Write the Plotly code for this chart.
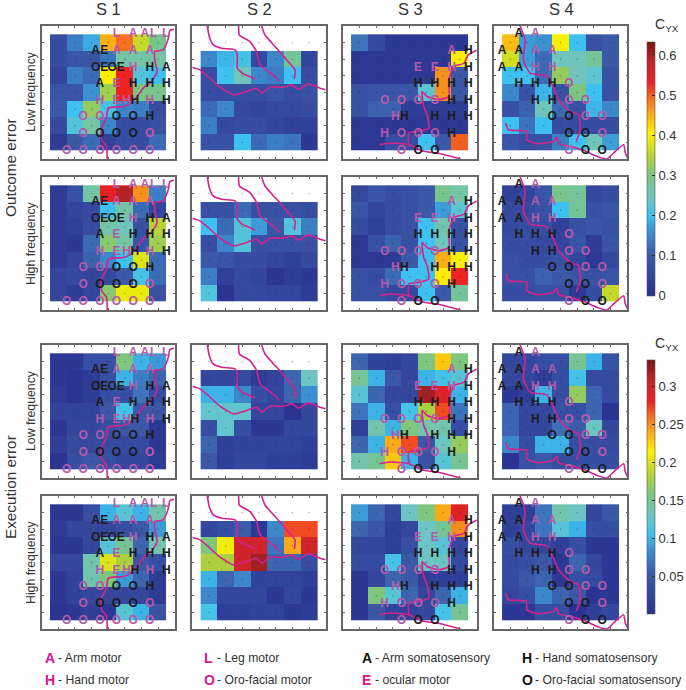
import plotly.graph_objects as go

W, H = 686, 690
FONT = "Liberation Sans"
PINK = "#b55aa8"
INK = "#1c1c1c"
LINE = "#d4238f"
GREY = "#333333"

subjects = ["S 1", "S 2", "S 3", "S 4"]
N = None
no_row = [N] * 7

# Outcome error, low frequency
o_low_s1 = [[.07,.14,.18,.45,.49,.36,.29],[.07,.09,.09,.13,.27,.27,.27],[.05,.14,.12,.40,.53,.22,.20],[.09,.09,.16,.33,.53,.30,.29],[.10,.20,.32,.21,.15,.14,.07],[.06,.22,.27,.15,.07,.07,.08],[.03,.10,.12,.04,.07,.07,.12]]
o_low_s2 = [no_row,[.15,.19,.21,.06,.15,.28,.05],[.07,.20,.25,.15,.14,.20,.07],[.07,.07,.07,.07,.09,.07,.08],[.12,.15,.06,.05,.06,.06,.07],[.14,.06,.07,.07,.05,.04,.04],[.08,.08,.20,.12,.14,.13,.02]]
o_low_s3 = [[.13,.06,.02,.02,.02,.02,.02],[.02,.02,.02,.02,.02,.02,.40],[.02,.02,.02,.02,.02,.47,.10],[.08,.09,.09,.09,.23,.47,.10],[.08,.11,.11,.03,.03,.03,.03],[.02,.02,.02,.02,.02,.02,.02],[.02,.02,.07,.07,.20,.10,.50]]
o_low_s4 = [[.44,.17,.16,.40,.20,.08,.10],[.37,.17,.12,.25,.25,.28,.10],[.20,.20,.12,.32,.25,.23,.08],[.15,.08,.19,.08,.30,.20,.08],[.08,.11,.25,.12,.08,.19,.15],[.20,.13,.20,.07,.07,.07,.07],[.09,.07,.08,.14,.20,.25,.17]]
# Outcome error, high frequency
o_high_s1 = [[.03,.08,.27,.54,.59,.47,.14],[.03,.05,.06,.20,.27,.12,.05],[.03,.04,.07,.27,.25,.08,.35],[.03,.02,.12,.31,.27,.09,.33],[.03,.05,.11,.15,.20,.38,.12],[.05,.06,.05,.06,.10,.21,.12],[.05,.03,.05,.31,.39,.39,.08]]
o_high_s2 = [no_row,[.08,.08,.12,.08,.08,.08,.07],[.20,.12,.22,.17,.09,.22,.14],[.07,.15,.22,.08,.08,.08,.08],[.10,.09,.07,.07,.05,.04,.06],[.14,.04,.06,.05,.01,.03,.02],[.22,.01,.06,.06,.05,.05,.03]]
o_high_s3 = [[.06,.09,.07,.08,.10,.29,.27],[.09,.05,.07,.08,.10,.17,.23],[.07,.04,.07,.08,.20,.26,.08],[.02,.08,.11,.08,.20,.25,.08],[.02,.02,.02,.10,.20,.45,.40],[.08,.07,.12,.20,.20,.41,.53],[.08,.08,.06,.06,.20,.10,.28]]
o_high_s4 = [[.04,.05,.09,.29,.28,.06,.07],[.06,.06,.08,.20,.28,.08,.09],[.06,.07,.07,.04,.08,.09,.08],[.07,.07,.06,.05,.09,.03,.09],[.08,.07,.07,.08,.05,.02,.06],[.08,.08,.11,.10,.09,.08,.09],[.07,.07,.08,.08,.02,.07,.36]]
# Execution error, low frequency
e_low_s1 = [[.01,.01,.04,.04,.16,.10,.09],[.01,.005,.015,.04,.10,.075,.06],[.015,.005,.015,.04,.04,.07,.04],[.025,.025,.025,.05,.11,.05,.05],[.01,.03,.03,.04,.05,.05,.01],[.02,.035,.035,.035,.035,.035,.01],[.005,.04,.05,.04,.03,.03,.015]]
e_low_s2 = [no_row,[.03,.03,.035,.015,.025,.06,.13],[.10,.10,.08,.04,.03,.06,.085],[.125,.125,.125,.03,.03,.005,.03],[.04,.125,.04,.01,.01,.03,.03],[.06,.02,.025,.025,.025,.025,.02],[.05,.02,.03,.03,.02,.02,.015]]
e_low_s3 = [[.06,.025,.02,.03,.16,.23,.16],[.15,.10,.05,.03,.10,.11,.12],[.12,.06,.03,.03,.32,.29,.10],[.07,.10,.04,.11,.18,.27,.07],[.02,.14,.10,.16,.14,.14,.04],[.06,.10,.24,.27,.05,.13,.17],[.14,.15,.23,.10,.045,.12,.15]]
e_low_s4 = [[.03,.03,.04,.04,.15,.10,.045],[.03,.03,.015,.04,.11,.035,.035],[.01,.02,.10,.04,.17,.06,.035],[.06,.03,.03,.04,.04,.06,.005],[.06,.03,.03,.065,.055,.13,.03],[.08,.04,.10,.10,.04,.04,.035],[.005,.045,.05,.04,.04,.04,.04]]
# Execution error, high frequency
e_high_s1 = [[.01,.01,.04,.10,.12,.10,.14],[.015,.03,.03,.03,.04,.05,.09],[.01,.01,.03,.12,.15,.06,.14],[.03,.03,.14,.20,.18,.05,.04],[.01,.025,.14,.16,.09,.06,.015],[.01,.025,.03,.03,.03,.03,.015],[.005,.01,.02,.01,.12,.10,.045]]
e_high_s2 = [no_row,[.03,.04,.055,.01,.08,.27,.27],[.16,.21,.30,.30,.07,.24,.30],[.18,.18,.30,.32,.06,.06,.04],[.10,.06,.08,.025,.025,.025,.02],[.08,.03,.03,.03,.01,.03,.01],[.11,.02,.02,.025,.025,.01,.015]]
e_high_s3 = [[.09,.06,.03,.13,.16,.24,.29],[.06,.05,.02,.03,.13,.15,.25],[.03,.03,.02,.04,.13,.12,.03],[.035,.035,.11,.05,.13,.13,.035],[.01,.03,.06,.05,.02,.02,.02],[.01,.16,.12,.06,.03,.06,.10],[.01,.05,.025,.025,.03,.11,.15]]
e_high_s4 = [[.02,.02,.07,.14,.13,.03,.05],[.02,.03,.07,.12,.10,.04,.04],[.04,.03,.03,.02,.04,.01,.01],[.035,.04,.05,.01,.06,.03,.01],[.035,.05,.06,.01,.04,.035,.01],[.03,.04,.08,.06,.05,.005,.01],[.01,.01,.04,.04,.005,.02,.03]]

panels = [
    [o_low_s1, o_low_s2, o_low_s3, o_low_s4],
    [o_high_s1, o_high_s2, o_high_s3, o_high_s4],
    [e_low_s1, e_low_s2, e_low_s3, e_low_s4],
    [e_high_s1, e_high_s2, e_high_s3, e_high_s4],
]

# Electrode labels: (letter, x, y) in grid units
s1_motor = [("L",4.5,.5),("A",5.5,.5),("A",6.2,.5),("L",6.74,.5),("L",7.46,.5),("A",4.5,1.5),("A",5.5,1.5),("A",6.5,1.5),("H",5.5,2.5),("E",4.5,3.5),("H",3.5,4.5),("E",4.5,4.5),("H",5.1,4.5),("H",6.5,4.5),("O",2.5,5.5),("O",3.5,5.5),("O",2.5,6.5),("O",6.5,6.5),("O",1.5,7.5),("O",2.5,7.5),("O",3.5,7.5),("O",4.5,7.5),("O",5.5,7.5),("O",6.5,7.5)]
s1_sensory = [("A",3.24,1.5),("E",3.76,1.5),("O",3.24,2.5),("E",3.76,2.5),("O",4.24,2.5),("E",4.76,2.5),("H",6.5,2.5),("A",7.5,2.5),("A",3.5,3.5),("H",5.5,3.5),("H",6.5,3.5),("H",7.5,3.5),("H",5.6,4.5),("H",7.5,4.5),("O",4.5,5.5),("O",5.5,5.5),("H",6.5,5.5),("O",3.5,6.5),("O",4.5,6.5),("O",5.5,6.5)]
s3_motor = [("A",6.5,1.5),("E",4.5,2.5),("E",5.5,2.5),("H",6.5,2.5),("O",2.5,4.5),("O",3.5,4.5),("O",4.5,4.5),("O",5.5,4.5),("H",3.14,5.5),("H",2.5,6.5),("O",3.5,6.5),("O",4.5,6.5),("O",5.5,6.5),("O",3.5,7.5)]
s3_sensory = [("H",7.5,1.5),("H",7.5,2.5),("H",4.5,3.5),("H",5.5,3.5),("H",6.5,3.5),("H",7.5,3.5),("H",6.5,4.5),("H",7.5,4.5),("H",3.68,5.5),("H",5.5,5.5),("H",6.5,5.5),("H",7.5,5.5),("H",6.5,6.5),("O",4.5,7.5),("O",5.5,7.5)]
s4_motor = [("A",2.5,.5),("A",2.5,1.5),("A",3.5,1.5),("H",2.5,2.5),("H",3.5,2.5),("O",4.5,3.5),("O",4.5,4.5),("O",5.5,4.5),("O",5.5,5.5),("O",6.5,5.5),("O",6.5,6.5),("O",4.5,7.5)]
s4_sensory = [("A",1.5,.5),("A",.5,1.5),("A",1.5,1.5),("A",.5,2.5),("A",1.5,2.5),("H",1.5,3.5),("H",2.5,3.5),("H",3.5,3.5),("H",2.5,4.5),("H",3.5,4.5),("O",3.5,5.5),("O",4.5,5.5),("O",4.5,6.5),("O",5.5,6.5),("O",5.5,7.5),("O",6.5,7.5)]
motor_labels = [s1_motor, [], s3_motor, s4_motor]
sensory_labels = [s1_sensory, [], s3_sensory, s4_sensory]

# Sulcus outlines in grid units
s1_lines = [[(7.96,.2),(7.7,.28),(7.64,.64),(7.5,1.08),(7.3,1.44),(6.8,1.54),(6.8,2.04),(6.94,2.74),(6.6,3.34),(6.1,3.74),(5.74,4.24),(5.3,4.68),(4.9,4.84),(4,4.94),(3.9,5.54),(3.6,6.14),(3.6,6.84),(3.9,7.24),(3.94,8)]]
s2_lines = [
    [(.9,0),(1.02,.64),(1.26,1.14),(1.76,1.34),(2.56,1.44),(2.7,1.74),(2.7,2.54),(3.06,2.88),(3.46,3.04),(3.76,3.2)],
    [(2.78,0),(2.82,.54),(3.46,.94),(3.86,1.54),(4.06,2.34),(4.56,2.74),(4.96,3.04),(5.22,3.34)],
    [(4.16,0),(4.36,.54),(5.06,1.34),(5.66,2.04),(6.16,2.64),(6.12,3.2)],
    [(0,2.5),(.46,2.64),(1.06,3.14),(1.66,3.68),(2.46,4.14),(3.06,4.0),(3.86,3.74),(4.16,4.04),(4.66,3.68),(5.46,3.68),(5.96,3.54),(6.36,3.8),(6.96,3.48),(7.66,3.74),(8,3.84)],
]
s3_lines = [
    [(8.04,1.44),(7.5,1.74),(7.24,2.24),(6.64,2.44),(6.34,3.24),(6.34,4.24),(5.74,4.44),(5.04,4.24),(4.74,3.94),(4.84,4.84),(5.04,5.34),(5.14,6.14),(4.54,6.34),(3.94,6.44),(3.94,7.14)],
    [(2.2,7.14),(2.84,7.04),(3.94,7.14),(4.84,7.54),(5.84,7.68),(7.04,8)],
]
s4_lines = [
    [(1.58,0),(1.88,.84),(1.78,2.04),(2.18,2.84),(3.18,3.0),(3.58,3.74),(3.88,4.44),(4.58,5.14),(5.08,5.34),(5.18,6.24),(4.94,6.94)],
    [(.72,5.84),(.88,6.24),(1.48,6.28),(1.98,6.34),(1.98,6.84),(2.58,7.08),(3.58,6.94),(3.78,6.7),(3.88,7.08),(4.58,7.24),(5.38,7.48),(6.18,7.84),(6.78,8),(7.28,7.54),(7.78,7.14),(7.88,7.64),(8.02,7.94)],
]
outlines = [s1_lines, s2_lines, s3_lines, s4_lines]

colormap = [
    [0, "#2a3190"], [.16, "#3c5aa8"], [.25, "#3c8fd0"], [.316, "#3ec1ee"], [.39, "#6ec5c0"],
    [.47, "#79c484"], [.55, "#b5d334"], [.64, "#fff200"], [.72, "#faa61a"], [.78, "#f26b22"],
    [.84, "#ed2024"], [.92, "#c1272d"], [1, "#7a1416"],
]

col_px = [(41.7, 174.7), (192.3, 325.7), (342.7, 476.7), (493.7, 627.3)]
row_px = [(26, 159), (177, 310), (345, 478), (496, 629)]
grid = [1, 2, 3, 4, 5, 6, 7]

fig = go.Figure()
layout = {}
n = 0
for r, (top, bot) in enumerate(row_px):
    for c, (left, right) in enumerate(col_px):
        n += 1
        xa, ya = f"x{n}", f"y{n}"
        axis = dict(showline=True, mirror="allticks", linecolor="#666666", linewidth=1.6, ticks="inside",
                    ticklen=2, tickwidth=1, tickcolor="#666666", tickvals=grid, showticklabels=False,
                    showgrid=False, zeroline=False)
        layout[f"xaxis{n}"] = dict(axis, domain=[left / W, right / W], range=[0, 8], anchor=ya)
        layout[f"yaxis{n}"] = dict(axis, domain=[1 - bot / H, 1 - top / H], range=[8, 0], anchor=xa)
        fig.add_trace(go.Heatmap(z=panels[r][c], x=grid, y=grid, xaxis=xa, yaxis=ya, zsmooth=False,
                                 coloraxis="coloraxis" if r < 2 else "coloraxis2", hoverongaps=False))
        fig.add_trace(go.Scatter(x=[i for i in grid for _ in grid], y=[j for _ in grid for j in grid],
                                 mode="markers", xaxis=xa, yaxis=ya, showlegend=False,
                                 marker=dict(size=1.3, color="rgba(30,30,30,.45)")))
        for path in outlines[c]:
            fig.add_trace(go.Scatter(x=[p[0] for p in path], y=[p[1] for p in path], mode="lines", xaxis=xa, yaxis=ya,
                                     showlegend=False, line=dict(color=LINE, width=1.6, shape="spline", smoothing=.5)))
        for labels, colour in ((motor_labels[c], PINK), (sensory_labels[c], INK)):
            if labels:
                fig.add_trace(go.Scatter(x=[l[1] for l in labels], y=[l[2] for l in labels], text=[l[0] for l in labels],
                                         mode="text", xaxis=xa, yaxis=ya, showlegend=False, cliponaxis=False,
                                         textposition="middle center",
                                         textfont=dict(family=FONT, size=12, color=colour, weight="bold")))


def cbar(top, bot, ticks, labels):
    return dict(x=647.3 / W, xanchor="left", y=1 - bot / H, yanchor="bottom", len=(bot - top) / H, lenmode="fraction",
                thickness=8.4, thicknessmode="pixels", xpad=0, ypad=0, outlinecolor="#555555", outlinewidth=.6,
                tickvals=ticks, ticktext=labels, ticks="inside", ticklen=3, tickcolor="#333333",
                tickfont=dict(family=FONT, size=13, color=GREY))


layout["coloraxis"] = dict(cmin=0, cmax=.633, colorscale=colormap,
                           colorbar=cbar(41.7, 295.7, [0, .1, .2, .3, .4, .5, .6], ["0", "0.1", "0.2", "0.3", "0.4", "0.5", "0.6"]))
layout["coloraxis2"] = dict(cmin=.001, cmax=.335, colorscale=colormap,
                            colorbar=cbar(360, 614, [.05, .1, .15, .2, .25, .3], ["0.05", "0.1", "0.15", "0.2", "0.25", "0.3"]))

ann = []


def note(x, y, text, size=12, anchor="center", angle=0, color=GREY, bold=False):
    ann.append(dict(x=x / W, y=1 - y / H, xref="paper", yref="paper", text=f"<b>{text}</b>" if bold else text, showarrow=False,
                    xanchor=anchor, yanchor="middle", textangle=angle, font=dict(family=FONT, size=size, color=color)))


for s, x in zip(subjects, [108, 259, 410, 561]):
    note(x, 9, s, 16.5)
note(10, 168, "Outcome error", 15.3, angle=-90)
note(10, 487, "Execution error", 15.3, angle=-90)
for y, t in zip([92, 243, 411, 562], ["Low frequency", "High frequency", "Low frequency", "High frequency"]):
    note(31, y, t, 12.3, angle=-90)
note(667, 25, "C<sub>YX</sub>", 14)
note(667, 344, "C<sub>YX</sub>", 14)

legend_items = [
    (43, 658, "A", "#d9168c", "- Arm motor"), (43, 680, "H", "#d9168c", "- Hand motor"),
    (202, 658, "L", "#d9168c", "- Leg motor"), (202, 680, "O", "#d9168c", "- Oro-facial motor"),
    (360, 658, "A", "#111111", "- Arm somatosensory"), (360, 680, "E", "#d9168c", "- ocular motor"),
    (520, 658, "H", "#111111", "- Hand somatosensory"), (520, 680, "O", "#111111", "- Oro-facial somatosensory"),
]
for x, y, letter, colour, desc in legend_items:
    note(x, y, letter, 14, anchor="left", color=colour, bold=True)
    note(x + 13, y, desc, 12.2, anchor="left", color="#333333")

fig.update_layout(width=W, height=H, margin=dict(l=0, r=0, t=0, b=0, autoexpand=False), paper_bgcolor="white", plot_bgcolor="white",
                  annotations=ann, showlegend=False, **layout)
fig.write_html("out.html", config={"displayModeBar": False}, post_script="document.body.style.margin='0';")
